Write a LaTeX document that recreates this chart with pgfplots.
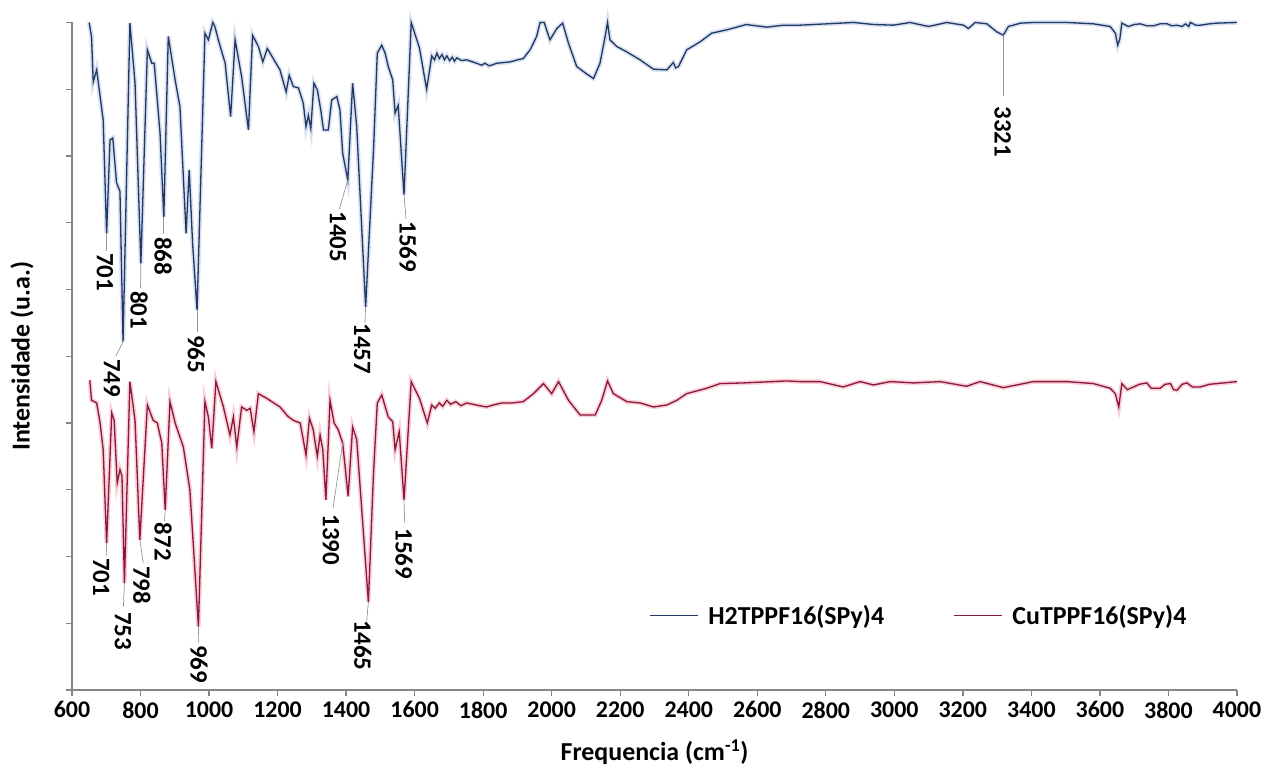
\documentclass[border=0pt]{standalone}
\usepackage{fontspec}
\setmainfont{Carlito}
\usepackage{pgfplots}
\usepackage{pgfplotstable}
\pgfplotsset{compat=1.18}
\definecolor{bluel}{RGB}{31,56,100}
\definecolor{blueg}{RGB}{185,198,226}
\definecolor{redl}{RGB}{138,24,54}
\definecolor{redg}{RGB}{242,168,186}
\definecolor{axg}{RGB}{134,134,134}
\definecolor{leadg}{RGB}{150,150,150}

\pgfplotstableread{
wn v
650 10.0
657 9.79
662 9.11
672 9.29
677 9.09
691 8.54
701 6.84
711 8.24
719 8.27
730 7.60
740 7.47
749 5.22
769 9.99
784 9.09
801 6.39
820 9.59
833 9.39
840 9.39
857 8.34
868 7.09
881 9.79
901 9.14
915 8.74
933 6.84
942 7.79
952 6.69
965 5.69
988 9.84
998 9.74
1011 10.0
1017 9.94
1027 9.74
1047 9.39
1063 8.59
1076 9.74
1095 9.19
1115 8.39
1127 9.81
1144 9.64
1157 9.41
1170 9.61
1207 9.29
1225 8.96
1234 9.21
1246 9.04
1261 9.02
1275 8.79
1283 8.44
1290 8.61
1297 8.41
1306 9.09
1316 8.99
1326 8.69
1334 8.39
1348 8.39
1358 8.84
1373 8.89
1382 8.69
1390 8.04
1405 7.64
1419 9.09
1431 8.44
1457 5.74
1480 8.09
1491 9.54
1504 9.66
1514 9.54
1523 9.34
1536 9.14
1543 8.64
1552 8.76
1569 7.42
1590 10.0
1614 9.62
1635 9.00
1650 9.50
1658 9.44
1665 9.54
1672 9.46
1680 9.52
1687 9.44
1694 9.50
1702 9.43
1710 9.48
1716 9.42
1723 9.47
1737 9.43
1752 9.44
1775 9.40
1796 9.36
1805 9.39
1818 9.35
1840 9.39
1860 9.40
1879 9.41
1900 9.44
1917 9.46
1937 9.59
1956 9.79
1966 10.0
1978 10.0
1995 9.74
2015 9.91
2032 9.99
2049 9.69
2073 9.34
2102 9.23
2122 9.16
2141 9.39
2156 9.79
2163 10.0
2170 9.74
2190 9.64
2219 9.56
2258 9.44
2297 9.30
2336 9.29
2355 9.40
2362 9.32
2370 9.34
2394 9.59
2433 9.71
2467 9.84
2511 9.89
2568 9.97
2628 9.93
2676 9.96
2725 9.96
2803 9.98
2881 10.0
2940 9.97
2997 9.96
3046 10.0
3100 9.94
3153 10.0
3202 9.96
3216 9.91
3236 10.0
3270 9.98
3299 9.86
3318 9.81
3333 9.94
3368 9.99
3406 10.0
3504 10.0
3581 9.98
3630 9.94
3645 9.84
3652 9.66
3658 9.75
3664 9.99
3683 9.94
3700 9.97
3718 9.98
3737 9.95
3757 9.95
3776 9.98
3796 9.98
3810 9.95
3825 9.96
3840 9.94
3850 9.98
3859 9.94
3864 10.0
3880 9.96
3893 9.96
3920 9.98
3941 9.99
4000 10.0
}\tblH

\pgfplotstableread{
wn v
652 4.64
657 4.34
665 4.32
672 4.30
682 4.00
691 3.60
701 2.20
716 4.15
723 4.04
732 3.10
740 3.30
746 3.20
753 1.60
769 4.62
784 4.04
798 2.25
820 4.27
837 4.04
849 4.00
862 3.70
872 2.70
886 4.32
901 4.00
925 3.64
944 3.00
969 0.95
988 4.32
998 4.09
1008 3.62
1020 4.62
1042 4.24
1061 3.82
1071 4.09
1081 3.64
1095 4.24
1110 4.19
1120 4.22
1131 3.87
1144 4.44
1168 4.37
1207 4.24
1230 4.10
1246 4.04
1266 4.00
1283 3.52
1293 4.07
1304 3.90
1316 3.50
1324 3.82
1332 3.60
1341 2.85
1353 4.34
1365 4.00
1377 3.90
1390 3.70
1406 2.90
1419 3.94
1431 3.75
1465 1.32
1480 3.25
1491 4.30
1504 4.42
1523 4.09
1536 4.02
1543 3.60
1555 3.87
1569 2.85
1590 4.62
1614 4.37
1637 4.00
1650 4.27
1660 4.22
1672 4.30
1682 4.25
1694 4.34
1705 4.28
1720 4.32
1735 4.26
1752 4.30
1780 4.27
1809 4.24
1830 4.27
1854 4.30
1885 4.30
1917 4.32
1947 4.44
1976 4.59
2000 4.44
2020 4.62
2049 4.34
2083 4.12
2127 4.12
2146 4.34
2163 4.63
2180 4.44
2219 4.32
2258 4.30
2297 4.24
2336 4.27
2365 4.34
2394 4.44
2452 4.52
2491 4.59
2559 4.60
2686 4.63
2725 4.62
2783 4.62
2851 4.54
2900 4.62
2939 4.57
2988 4.62
3056 4.60
3134 4.62
3211 4.55
3250 4.62
3318 4.53
3406 4.62
3504 4.62
3581 4.59
3630 4.52
3645 4.44
3655 4.24
3664 4.59
3680 4.50
3698 4.54
3715 4.58
3737 4.60
3750 4.52
3776 4.52
3790 4.58
3806 4.59
3815 4.50
3825 4.49
3840 4.58
3854 4.60
3870 4.54
3893 4.54
3920 4.58
3941 4.59
4000 4.62
}\tblCu

\begin{document}
\begin{tikzpicture}
\begin{axis}[
  scale only axis,
  width=1165bp, height=667.5bp,
  xmin=600, xmax=4000, ymin=0, ymax=10,
  xtick={600,800,...,4000},
  ytick={0,1,...,10},
  yticklabels={},
  axis x line*=bottom, axis y line*=left,
  axis line style={draw=axg, line width=1.6bp, -},
  tick align=outside,
  major tick length=6bp,
  every tick/.style={draw=axg, line width=1.3bp},
  tick label style={font=\fontsize{24}{28}\selectfont\bfseries},
  xticklabel style={yshift=-2bp, /pgf/number format/1000 sep={}},
  /pgf/number format/assume math mode=true,
  xlabel={Frequencia (cm\textsuperscript{-1})},
  ylabel={Intensidade (u.a.)},
  label style={font=\fontsize{26}{30}\selectfont\bfseries},
  xlabel style={at={(axis description cs:0.5,-0.093)}, anchor=center},
  ylabel style={at={(axis description cs:-0.043,0.5)}, anchor=center},
  clip=false,
  legend columns=2,
  legend style={draw=none, fill=none, at={(axis cs:2275,1.12)}, anchor=west,
    font=\fontsize{26}{30}\selectfont\bfseries,
    /tikz/every even column/.append style={column sep=67bp}},
  legend image code/.code={\draw[#1] (0bp,0bp) -- (48bp,0bp); \path (56bp,0bp);},
]
\addplot[blueg, line width=4.5bp, opacity=0.55, forget plot] table[x=wn,y=v] {\tblH};
\addplot[redg, line width=4.5bp, opacity=0.55, forget plot] table[x=wn,y=v] {\tblCu};
\addplot[bluel, line width=1.3bp] table[x=wn,y=v] {\tblH};
\addlegendentry{H2TPPF16(SPy)4}
\addplot[redl, line width=1.3bp] table[x=wn,y=v] {\tblCu};
\addlegendentry{CuTPPF16(SPy)4}

% peak annotations
\begin{scope}[every node/.style={rotate=-90, font=\fontsize{25}{29}\selectfont\bfseries, inner sep=0pt}]
\draw[leadg, line width=0.7bp] (axis cs:701,6.84) -- (axis cs:701,6.58);
\node at (axis cs:696,6.26) {701};
\draw[leadg, line width=0.7bp] (axis cs:749,5.22) -- (axis cs:728,5.0);
\node at (axis cs:717,4.67) {749};
\draw[leadg, line width=0.7bp] (axis cs:801,6.39) -- (axis cs:800,6.02);
\node at (axis cs:796,5.69) {801};
\draw[leadg, line width=0.7bp] (axis cs:868,7.09) -- (axis cs:868,6.83);
\node at (axis cs:866,6.50) {868};
\draw[leadg, line width=0.7bp] (axis cs:965,5.69) -- (axis cs:965,5.36);
\node at (axis cs:963,5.03) {965};
\draw[leadg, line width=0.7bp] (axis cs:1405,7.64) -- (axis cs:1380,7.2);
\node at (axis cs:1376,6.79) {1405};
\draw[leadg, line width=0.7bp] (axis cs:1457,5.74) -- (axis cs:1455,5.5);
\node at (axis cs:1447,5.11) {1457};
\draw[leadg, line width=0.7bp] (axis cs:1569,7.42) -- (axis cs:1575,7.05);
\node at (axis cs:1581,6.64) {1569};
\draw[leadg, line width=0.7bp] (axis cs:3318,9.81) -- (axis cs:3318,8.9);
\node at (axis cs:3316,8.36) {3321};
\draw[leadg, line width=0.7bp] (axis cs:701,2.20) -- (axis cs:700,2.0);
\node at (axis cs:685,1.69) {701};
\draw[leadg, line width=0.7bp] (axis cs:753,1.60) -- (axis cs:750,1.25);
\node at (axis cs:749,0.88) {753};
\draw[leadg, line width=0.7bp] (axis cs:798,2.25) -- (axis cs:808,1.9);
\node at (axis cs:804,1.57) {798};
\draw[leadg, line width=0.7bp] (axis cs:872,2.70) -- (axis cs:870,2.53);
\node at (axis cs:866,2.22) {872};
\draw[leadg, line width=0.7bp] (axis cs:969,0.95) -- (axis cs:970,0.70);
\node at (axis cs:971,0.39) {969};
\draw[leadg, line width=0.7bp] (axis cs:1390,3.70) -- (axis cs:1362,2.73);
\node at (axis cs:1356,2.25) {1390};
\draw[leadg, line width=0.7bp] (axis cs:1465,1.32) -- (axis cs:1460,1.03);
\node at (axis cs:1449,0.67) {1465};
\draw[leadg, line width=0.7bp] (axis cs:1569,2.85) -- (axis cs:1571,2.5);
\node at (axis cs:1569,2.04) {1569};
\end{scope}
\end{axis}
\pgfresetboundingbox
\path[use as bounding box] (-72bp,-77bp) rectangle (1194bp,690bp);
\end{tikzpicture}
\end{document}
